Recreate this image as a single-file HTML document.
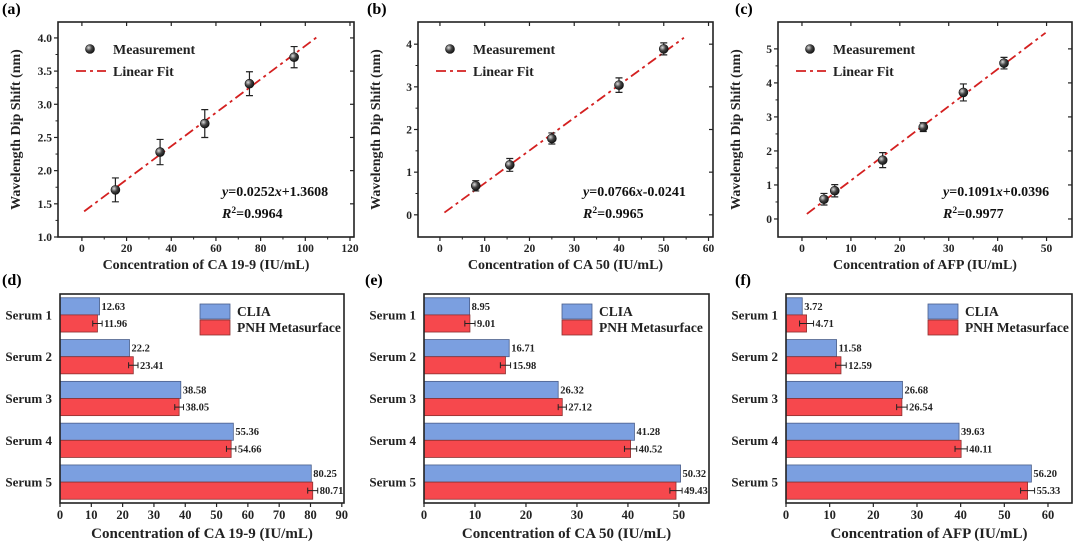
<!DOCTYPE html>
<html><head><meta charset="utf-8"><style>
body{margin:0;background:#fff;}
svg{display:block;font-family:"Liberation Serif",serif;font-weight:bold;}
</style></head><body>
<svg id="fig" width="1080" height="546" viewBox="0 0 1080 546" xmlns="http://www.w3.org/2000/svg"></svg>
<script>
// ---- Scatter data ----
const aX=[15,35,55,75,95];
const aY=[1.71,2.28,2.71,3.31,3.71];
const aE=[0.18,0.19,0.21,0.18,0.16];
const bX=[8,15.6,25,40,50];
const bY=[0.68,1.17,1.79,3.04,3.89];
const bE=[0.12,0.15,0.13,0.17,0.14];
const cX=[4.5,6.7,16.5,24.8,33,41.3];
const cY=[0.58,0.83,1.73,2.70,3.72,4.58];
const cE=[0.17,0.18,0.22,0.13,0.25,0.17];
const aFit=[0.0252,1.3608], bFit=[0.0766,-0.0241], cFit=[0.1091,0.0396];
const aXT=[0,20,40,60,80,100,120], aYT=[1.0,1.5,2.0,2.5,3.0,3.5,4.0];
const bXT=[0,10,20,30,40,50,60], bYT=[0,1,2,3,4];
const cXT=[0,10,20,30,40,50], cYT=[0,1,2,3,4,5];
// ---- Bar data ----
const sera=["Serum 1","Serum 2","Serum 3","Serum 4","Serum 5"];
const dClia=[12.63,22.2,38.58,55.36,80.25], dPnh=[11.96,23.41,38.05,54.66,80.71], dErr=[1.5,1.5,1.4,1.5,1.6];
const dCl=["12.63","22.2","38.58","55.36","80.25"], dPl=["11.96","23.41","38.05","54.66","80.71"];
const eClia=[8.95,16.71,26.32,41.28,50.32], ePnh=[9.01,15.98,27.12,40.52,49.43], eErr=[1.0,1.0,0.8,1.2,1.2];
const eCl=["8.95","16.71","26.32","41.28","50.32"], ePl=["9.01","15.98","27.12","40.52","49.43"];
const fClia=[3.72,11.58,26.68,39.63,56.20], fPnh=[4.71,12.59,26.54,40.11,55.33], fErr=[1.6,1.2,1.2,1.4,1.6];
const fCl=["3.72","11.58","26.68","39.63","56.20"], fPl=["4.71","12.59","26.54","40.11","55.33"];
const dXT=[0,10,20,30,40,50,60,70,80,90], eXT=[0,10,20,30,40,50], fXT=[0,10,20,30,40,50,60];

const svg=document.getElementById('fig');
const NS='http://www.w3.org/2000/svg';
function el(tag,attrs,parent,text){const e=document.createElementNS(NS,tag);for(const k in attrs)e.setAttribute(k,attrs[k]);if(text!==undefined)e.textContent=text;(parent||svg).appendChild(e);return e;}

function panelLabel(t,x,y){const e=el('text',{x:x,y:y,'font-size':16},svg,t);

}

const DASH='10 4 3 4';
function scatter(o){
 const g=el('g',{});
 
 
 const L=o.box[0],R=o.box[1],T=o.box[2],B=o.box[3];
 const sx=v=>L+(v-o.xr[0])/(o.xr[1]-o.xr[0])*(R-L);
 const sy=v=>B-(v-o.yr[0])/(o.yr[1]-o.yr[0])*(B-T);
 const box=el('rect',{x:L,y:T,width:R-L,height:B-T,fill:'none',stroke:'#222','stroke-width':1.6},g);
 
 
 o.xt.forEach((v,i)=>{const x=sx(v);
  el('line',{x1:x,x2:x,y1:B,y2:B+4,stroke:'#222','stroke-width':1.2},g);
  el('line',{x1:x,x2:x,y1:T,y2:T+4,stroke:'#222','stroke-width':1.2},g);
  const t=el('text',{x:x,y:B+15,'font-size':11.5,'text-anchor':'middle',fill:'#222'},g,String(v));
  
  
  if(i<o.xt.length-1){const m=sx((v+o.xt[i+1])/2);el('line',{x1:m,x2:m,y1:B,y2:B+2.5,stroke:'#222','stroke-width':1},g);}
 });
 o.yt.forEach((v,i)=>{const y=sy(v);
  el('line',{x1:L-4,x2:L,y1:y,y2:y,stroke:'#222','stroke-width':1.2},g);
  el('line',{x1:R,x2:R-4,y1:y,y2:y,stroke:'#222','stroke-width':1.2},g);
  const t=el('text',{x:L-6,y:y+4,'font-size':11.5,'text-anchor':'end',fill:'#222'},g,o.yf(v));
  
  
  if(i<o.yt.length-1){const m=sy((v+o.yt[i+1])/2);el('line',{x1:L-2.5,x2:L,y1:m,y2:m,stroke:'#222','stroke-width':1},g);}
 });
 const xt=el('text',{x:(L+R)/2,y:B+32,'font-size':14,'text-anchor':'middle',fill:'#222'},g,o.xtitle);
 
 
 const yx=L-38, yy=(T+B)/2;
 const yt=el('text',{x:yx,y:yy,'font-size':14,'text-anchor':'middle',fill:'#222',transform:`rotate(-90 ${yx} ${yy})`},g,'Wavelength Dip Shift (nm)');
 
 
 const f=o.fit;
 const fl=el('line',{x1:sx(o.fx[0]),y1:sy(f[0]*o.fx[0]+f[1]),x2:sx(o.fx[1]),y2:sy(f[0]*o.fx[1]+f[1]),stroke:'#d42020','stroke-width':1.8,'stroke-dasharray':DASH},g);
 
 
 o.x.forEach((xv,i)=>{const x=sx(xv),y=sy(o.y[i]),y1=sy(o.y[i]+o.e[i]),y2=sy(o.y[i]-o.e[i]);
  const eb=el('path',{d:`M${x},${y1}V${y2}M${x-3.5},${y1}H${x+3.5}M${x-3.5},${y2}H${x+3.5}`,stroke:'#222','stroke-width':1.2,fill:'none'},g);
  
  
  const c=el('circle',{cx:x,cy:y,r:4.5,fill:'url(#ball)',stroke:'#111','stroke-width':0.6},g);
  
  
 });
 const lg=el('g',{},g);
 
 
 el('circle',{cx:L+32,cy:T+27,r:4.5,fill:'url(#ball)',stroke:'#111','stroke-width':0.6},lg);
 el('text',{x:L+55,y:T+32,'font-size':14,fill:'#222'},lg,'Measurement');
 el('line',{x1:L+18,x2:L+48,y1:T+49,y2:T+49,stroke:'#d42020','stroke-width':1.8,'stroke-dasharray':DASH},lg);
 el('text',{x:L+55,y:T+54,'font-size':14,fill:'#222'},lg,'Linear Fit');
 const eq=el('text',{x:o.ex,y:B-41,'font-size':14,fill:'#111'},g);
 
 
 el('tspan',{'font-style':'italic'},eq,'y');eq.appendChild(document.createTextNode('='+o.eq[0]));
 el('tspan',{'font-style':'italic'},eq,'x');eq.appendChild(document.createTextNode(o.eq[1]));
 const r2=el('text',{x:o.ex,y:B-19,'font-size':14,fill:'#111'},g);
 
 
 el('tspan',{'font-style':'italic'},r2,'R');el('tspan',{'font-size':9.5,dy:-5},r2,'2');el('tspan',{dy:5},r2,'='+o.r2);
}

function bars(o){
 const g=el('g',{});
 
 
 const L=o.box[0],R=o.box[1],T=o.box[2],B=o.box[3];
 const sx=v=>L+v/o.xmax*(R-L);
 const slot=(B-T)/sera.length, bh=slot*0.41;
 o.xt.forEach(v=>{const x=sx(v);
  el('line',{x1:x,x2:x,y1:B,y2:B+4,stroke:'#222','stroke-width':1.2},g);
  const t=el('text',{x:x,y:B+16,'font-size':12.5,'text-anchor':'middle',fill:'#222'},g,String(v));
  
  
 });
 sera.forEach((s,i)=>{const cy=T+slot*(i+0.5);
  const lab=el('text',{x:L-8,y:cy+4.5,'font-size':13,'text-anchor':'end',fill:'#222'},g,s);
  
  
  el('line',{x1:L,x2:L+3,y1:cy,y2:cy,stroke:'#222','stroke-width':1.2},g);
  const b1=el('rect',{x:L,y:cy-bh,width:sx(o.c[i])-L,height:bh,fill:'#7b9fe0',stroke:'#4a5e8a','stroke-width':0.8},g);
  
  
  const b2=el('rect',{x:L,y:cy,width:sx(o.p[i])-L,height:bh,fill:'#f6484d',stroke:'#8a3030','stroke-width':0.8},g);
  
  
  const ey=cy+bh/2, e1=sx(o.p[i]-o.e[i]), e2=sx(o.p[i]+o.e[i]);
  const eb=el('path',{d:`M${e1},${ey}H${e2}M${e1},${ey-3}V${ey+3}M${e2},${ey-3}V${ey+3}`,stroke:'#222','stroke-width':1,fill:'none'},g);
  
  
  const t1=el('text',{x:sx(o.c[i])+2,y:cy-bh/2+3.5,'font-size':10.5,fill:'#222'},g,o.cl[i]);
  
  
  const t2=el('text',{x:e2+2,y:ey+3.5,'font-size':10.5,fill:'#222'},g,o.pl[i]);
  
  
 });
 const box=el('rect',{x:L,y:T,width:R-L,height:B-T,fill:'none',stroke:'#222','stroke-width':1.6},g);
 
 
 const xt=el('text',{x:(L+R)/2,y:B+35,'font-size':15,'text-anchor':'middle',fill:'#222'},g,o.xtitle);
 
 
 const lg=el('g',{},g);
 
 
 el('rect',{x:o.lx,y:T+10,width:30,height:15,fill:'#7b9fe0',stroke:'#4a5e8a','stroke-width':0.8},lg);
 el('rect',{x:o.lx,y:T+26,width:30,height:15,fill:'#f6484d',stroke:'#8a3030','stroke-width':0.8},lg);
 el('text',{x:o.lx+37,y:T+22,'font-size':13.5,fill:'#222'},lg,'CLIA');
 el('text',{x:o.lx+37,y:T+38,'font-size':13.5,fill:'#222'},lg,'PNH Metasurface');
}

const defs=el('defs',{});
const rg=el('radialGradient',{id:'ball',cx:'0.35',cy:'0.35',r:'0.7'},defs);
el('stop',{offset:'0','stop-color':'#ddd'},rg);el('stop',{offset:'0.5','stop-color':'#444'},rg);el('stop',{offset:'1','stop-color':'#111'},rg);

scatter({name:'chart-a',box:[58,354,22,237],xr:[-10.7,121.8],yr:[1.0,4.24],xt:aXT,yt:aYT,yf:v=>v.toFixed(1),x:aX,y:aY,e:aE,fit:aFit,fx:[1,105],xtitle:'Concentration of CA 19-9 (IU/mL)',eq:['0.0252','+1.3608'],r2:'0.9964',ex:222});
scatter({name:'chart-b',box:[418,713,22,237],xr:[-4.9,61],yr:[-0.52,4.52],xt:bXT,yt:bYT,yf:v=>String(v),x:bX,y:bY,e:bE,fit:bFit,fx:[1,54.5],xtitle:'Concentration of CA 50 (IU/mL)',eq:['0.0766','-0.0241'],r2:'0.9965',ex:583});
scatter({name:'chart-c',box:[778,1072,22,237],xr:[-4.9,55.2],yr:[-0.53,5.79],xt:cXT,yt:cYT,yf:v=>String(v),x:cX,y:cY,e:cE,fit:cFit,fx:[1,49.8],xtitle:'Concentration of AFP (IU/mL)',eq:['0.1091','+0.0396'],r2:'0.9977',ex:943});

bars({name:'chart-d',box:[60,344,294,503],xmax:90.7,xt:dXT,c:dClia,p:dPnh,e:dErr,cl:dCl,pl:dPl,xtitle:'Concentration of CA 19-9 (IU/mL)',lx:200});
bars({name:'chart-e',box:[424,709,294,503],xmax:55.9,xt:eXT,c:eClia,p:ePnh,e:eErr,cl:eCl,pl:ePl,xtitle:'Concentration of CA 50 (IU/mL)',lx:562});
bars({name:'chart-f',box:[786,1072,294,503],xmax:65.5,xt:fXT,c:fClia,p:fPnh,e:fErr,cl:fCl,pl:fPl,xtitle:'Concentration of AFP (IU/mL)',lx:928});

panelLabel('(a)',2,14);panelLabel('(b)',367,14);panelLabel('(c)',735,14);
panelLabel('(d)',2,285);panelLabel('(e)',365,285);panelLabel('(f)',735,285);
</script>
</body></html>
